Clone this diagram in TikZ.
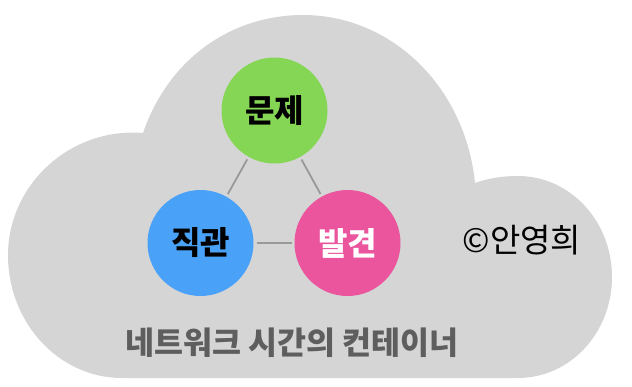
\documentclass[tikz,border=0pt]{standalone}
\usepackage{fontspec}
\usepackage{xcolor}
\newfontfamily\kofont{Noto Sans CJK KR}
\definecolor{cloudgray}{HTML}{D5D5D5}
\definecolor{problemgreen}{HTML}{85D655}
\definecolor{intuitionblue}{HTML}{4AA2F8}
\definecolor{discoverypink}{HTML}{EA559E}
\definecolor{linkgray}{HTML}{999999}
\definecolor{captiongray}{HTML}{5E5E5E}

\tikzset{
  topic/.style={
    circle,
    minimum size=106pt,
    inner sep=0pt,
    outer sep=3pt,
    font=\kofont\bfseries\fontsize{32}{38}\selectfont
  },
  link/.style={draw=linkgray, line width=1.8pt}
}

\begin{document}
\begin{tikzpicture}[x=1pt,y=-1pt]
  \useasboundingbox (0,0) rectangle (632,386);
  % cloud
  \fill[cloudgray] (143,133) .. controls (70,127) and (8,185) .. (8,255)
    .. controls (8,323) and (59,378) .. (122,378)
    -- (518,378)
    .. controls (570,378) and (612,333) .. (612,277)
    .. controls (612,221) and (570,176) .. (518,176)
    .. controls (500,176) and (486,179) .. (475,183)
    .. controls (465,85) and (390,15) .. (303,15)
    .. controls (235,15) and (170,55) .. (143,133) -- cycle;

  \node[topic, fill=problemgreen, text=black] (problem) at (274.5,110.5) {문제};
  \node[topic, fill=intuitionblue, text=black] (intuition) at (200.5,243) {직관};
  \node[topic, fill=discoverypink, text=white] (discovery) at (347.5,243) {발견};

  \draw[link] (problem) -- (intuition);
  \draw[link] (problem) -- (discovery);
  \draw[link] (intuition) -- (discovery);

  \node[font=\kofont\fontsize{33}{40}\selectfont] (credit) at (522,240) {©안영희};
  \node[
    text=captiongray,
    font=\kofont\bfseries\fontsize{31.5}{38}\selectfont
  ] (caption) at (292,343) {네트워크 시간의 컨테이너};
\end{tikzpicture}
\end{document}
